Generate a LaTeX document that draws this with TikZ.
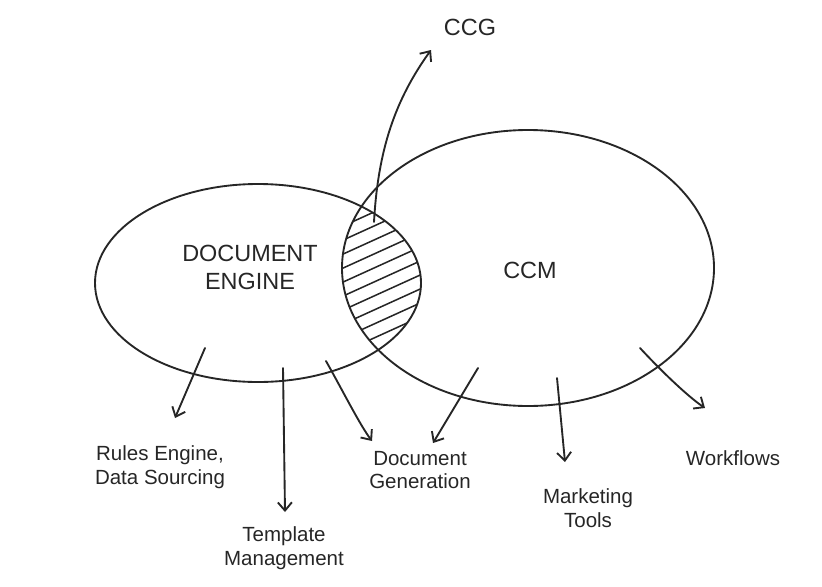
\documentclass[tikz,border=0pt]{standalone}
\usepackage{fontspec}
\setmainfont{Liberation Sans}
\usetikzlibrary{arrows.meta, positioning}

\begin{document}
\begin{tikzpicture}[
    x=0.03cm, y=-0.03cm,
    pen/.style={draw=black!85, line width=1.6pt, line cap=round},
    pointer/.style={pen, -{Straight Barb[length=7pt, width=12pt, line width=1.6pt]}},
    hatch/.style={draw=black!85, line width=1.3pt, line cap=round},
    caps/.style={font=\fontsize{20}{24}\selectfont, align=center, text=black!85},
    label/.style={font=\fontsize{17.5}{20}\selectfont, align=center, text=black!85},
]
\useasboundingbox (0,0) rectangle (822,586);

% Pozycje
\coordinate (engine) at (258,283);
\coordinate (ccmc) at (528,268);

% Zakreskowanie czesci wspolnej
\begin{scope}
    \clip (engine) ellipse [x radius=163, y radius=99];
    \clip (ccmc) ellipse [x radius=186, y radius=138];
    \foreach \i in {190,204,...,450}
        \draw[hatch] (330,\i) -- ++(110,-50);
\end{scope}

% Elipsy
\draw[pen] (engine) ellipse [x radius=163, y radius=99];
\draw[pen] (ccmc) ellipse [x radius=186, y radius=138];

% Napisy
\node[caps] (de) at (250,267) {DOCUMENT\\ENGINE};
\node[caps] (ccm) at (530,270) {CCM};
\node[caps] (ccg) at (470,27) {CCG};
\node[label] (rules) at (160,467) {Rules Engine,\\Data Sourcing};
\node[label] (tmpl) at (284,548) {Template\\Management};
\node[label] (docgen) at (420,470) {Document\\Generation};
\node[label] (mkt) at (588,508) {Marketing\\Tools};
\node[label] (wf) at (733,458) {Workflows};

% Strzalki
\coordinate (s1) at (205,348); \coordinate (e1) at (175,418);
\coordinate (s2) at (283,368); \coordinate (e2) at (285,512);
\coordinate (s3) at (326,361); \coordinate (e3) at (372,441);
\coordinate (s4) at (478,368); \coordinate (e4) at (433,443);
\coordinate (s5) at (557,378); \coordinate (e5) at (565,462);
\coordinate (s6) at (640,348); \coordinate (e6) at (705,408);
\coordinate (s7) at (374,222); \coordinate (e7) at (431,50);

\draw[pointer] (s1) -- (e1);
\draw[pointer] (s2) -- (e2);
\draw[pointer] (s3) .. controls (345,395) and (360,425) .. (e3);
\draw[pointer] (s4) -- (e4);
\draw[pointer] (s5) -- (e5);
\draw[pointer] (s6) .. controls (665,375) and (690,398) .. (e6);
\draw[pointer] (s7) .. controls (378,150) and (395,100) .. (e7);

\end{tikzpicture}
\end{document}
